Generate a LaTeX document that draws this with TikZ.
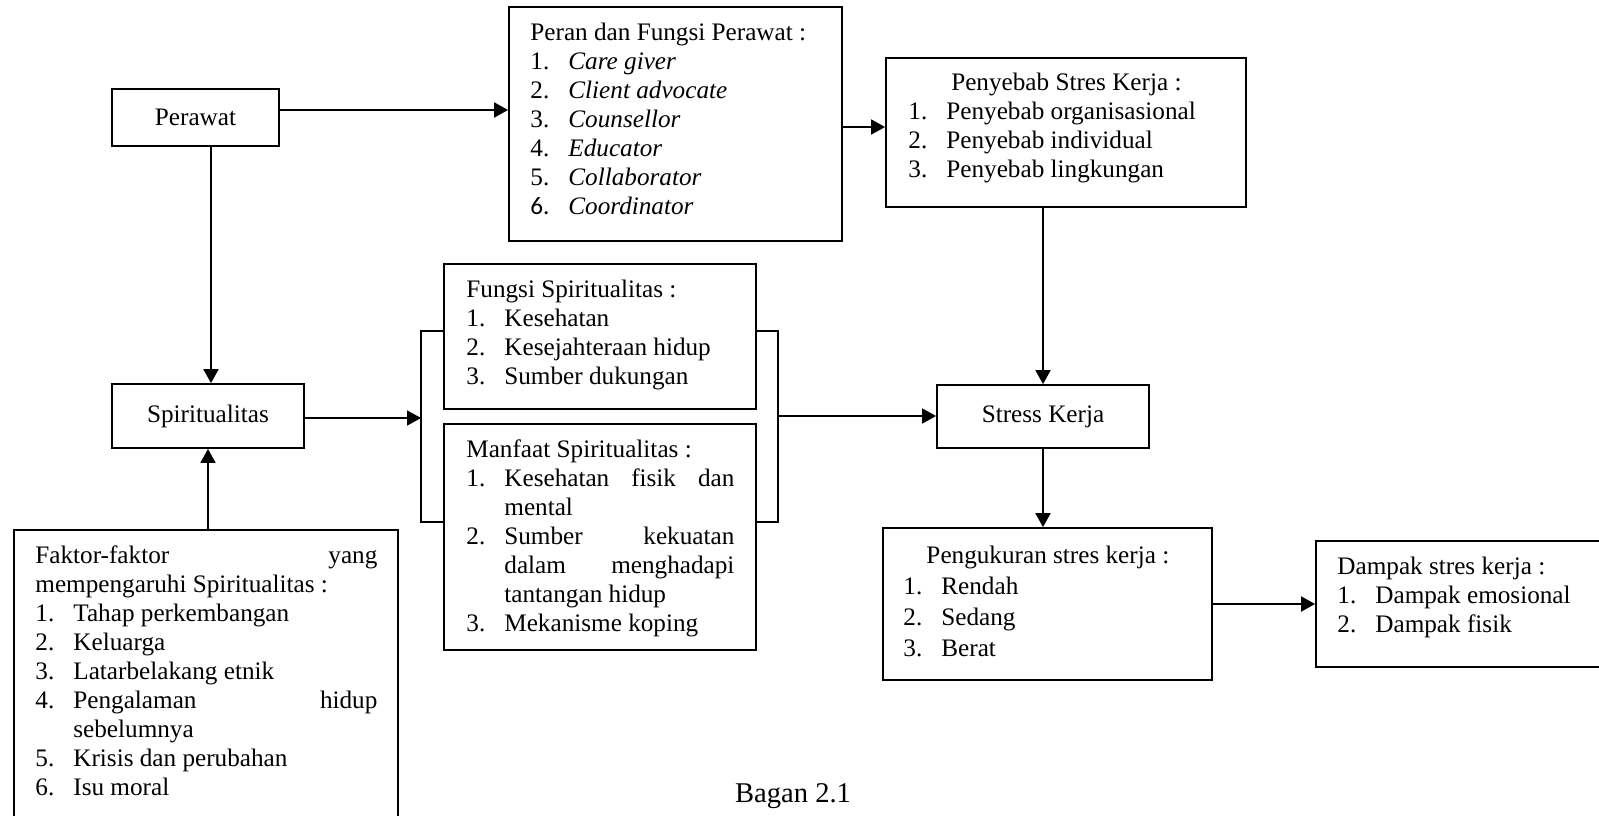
\documentclass[tikz,border=0pt]{standalone}
\usepackage{fontspec}
\setmainfont{Liberation Serif}
\newfontfamily\calib{Carlito}
\usetikzlibrary{fit,arrows.meta}
\adjdemerits=0
\newcommand\itm[2]{\par\hangindent=19pt\hangafter=1\noindent\makebox[19pt][l]{#1}#2\par}
\begin{document}
\begin{tikzpicture}[x=0.5pt,y=-0.5pt,
  box/.style={draw, line width=0.9pt, inner sep=0pt},
  txt/.style={inner sep=0pt, anchor=base west},
  arr/.style={line width=0.9pt, -{Triangle[length=7pt,width=7.5pt]}},
  ln/.style={line width=0.9pt},
  font=\fontsize{12.6pt}{14.5pt}\selectfont]
\useasboundingbox (0,0) rectangle (1599,815);

% boxes
\node[box, fit={(112,89) (279,146)}, label=center:Perawat] (perawat) {};
\node[box, fit={(112,384) (304,448)}, label=center:Spiritualitas] (spirit) {};
\node[box, fit={(937,385) (1149,448)}, label=center:Stress Kerja] (stress) {};
\node[box, fit={(509,7) (842,241)}] (peran) {};
\node[box, fit={(886,58) (1246,207)}] (penyebab) {};
\node[box, fit={(444,264) (756,409)}] (fungsi) {};
\node[box, fit={(444,424) (756,650)}] (manfaat) {};
\node[box, fit={(14,530) (398,840)}] (faktor) {};
\node[box, fit={(883,528) (1212,680)}] (peng) {};
\node[box, fit={(1316,541) (1620,667)}] (dampak) {};

% texts
\node[txt] (peranT) at (530,40) {\parbox[t]{150pt}{Peran dan Fungsi Perawat :
  \itm{1.}{\textit{Care giver}}
  \itm{2.}{\textit{Client advocate}}
  \itm{3.}{\textit{Counsellor}}
  \itm{4.}{\textit{Educator}}
  \itm{5.}{\textit{Collaborator}}
  \itm{{\calib 6.}}{\textit{Coordinator}}}};

\node[txt] (penyebabT) at (908,90) {\parbox[t]{158pt}{{\centering Penyebab Stres Kerja :\par}
  \itm{1.}{Penyebab organisasional}
  \itm{2.}{Penyebab individual}
  \itm{3.}{Penyebab lingkungan}}};

\node[txt] (fungsiT) at (466,297) {\parbox[t]{134pt}{Fungsi Spiritualitas :
  \itm{1.}{Kesehatan}
  \itm{2.}{Kesejahteraan hidup}
  \itm{3.}{Sumber dukungan}}};

\node[txt] (manfaatT) at (466,457) {\parbox[t]{134pt}{Manfaat Spiritualitas :
  \itm{1.}{Kesehatan fisik dan\linebreak mental}
  \itm{2.}{Sumber kekuatan\linebreak dalam menghadapi\linebreak tantangan hidup}
  \itm{3.}{Mekanisme koping}}};

\node[txt] (faktorT) at (35,563) {\parbox[t]{171pt}{Faktor-faktor\hfill yang\par
  \noindent mempengaruhi Spiritualitas :
  \itm{1.}{Tahap perkembangan}
  \itm{2.}{Keluarga}
  \itm{3.}{Latarbelakang etnik}
  \itm{4.}{Pengalaman hidup\linebreak sebelumnya}
  \itm{5.}{Krisis dan perubahan}
  \itm{6.}{Isu moral}}};

\node[txt, font=\fontsize{12.6pt}{15.5pt}\selectfont] (pengT) at (903,563) {\parbox[t]{144.5pt}{{\centering Pengukuran stres kerja :\par}
  \itm{1.}{Rendah}
  \itm{2.}{Sedang}
  \itm{3.}{Berat}}};

\node[txt] (dampakT) at (1337,574) {\parbox[t]{140pt}{Dampak stres kerja :
  \itm{1.}{Dampak emosional}
  \itm{2.}{Dampak fisik}}};

\node[inner sep=0pt, anchor=base, font=\fontsize{14.3pt}{17pt}\selectfont] (caption) at (793,802) {Bagan 2.1};

% helper coordinates
\coordinate (a1) at (0,110);
\coordinate (a2) at (0,127);
\coordinate (a3) at (211,0);
\coordinate (bLt) at (421,331);
\coordinate (bLb) at (421,522);
\coordinate (bRt) at (778,331);
\coordinate (bRb) at (778,522);
\coordinate (bRout) at (778,416);
\coordinate (bLin) at (421,418);

% connectors
\draw[arr] (perawat.east |- a1) -- (peran.west |- a1);
\draw[arr] (peran.east |- a2) -- (penyebab.west |- a2);
\draw[arr] (perawat.south -| a3) -- (spirit.north -| a3);
\draw[arr] (faktor.north -| spirit.south) -- (spirit.south);
\draw[arr] (spirit.east |- bLin) -- (bLin);
\draw[ln] (bLt -| fungsi.west) -- (bLt) -- (bLb) -- (bLb -| manfaat.west);
\draw[ln] (bRt -| fungsi.east) -- (bRt) -- (bRb) -- (bRb -| manfaat.east);
\draw[arr] (bRout) -- (bRout -| stress.west);
\draw[arr] (penyebab.south -| stress.north) -- (stress.north);
\draw[arr] (stress.south) -- (peng.north -| stress.south);
\draw[arr] (peng.east) -- (dampak.west |- peng.east);
\end{tikzpicture}
\end{document}
